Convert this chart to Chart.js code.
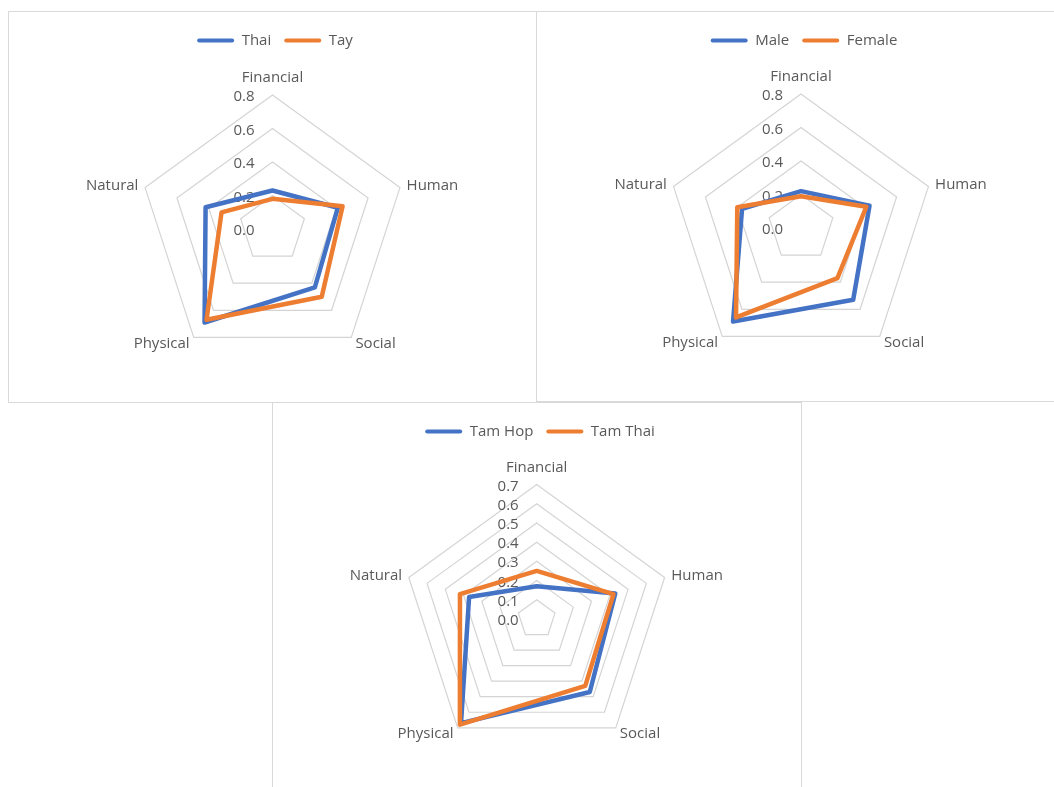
<!DOCTYPE html>
<html>
<head>
<meta charset="utf-8">
<script src="https://cdn.jsdelivr.net/npm/chart.js@4.4.1/dist/chart.umd.min.js"></script>
<style>
  html, body { margin: 0; padding: 0; background: #fff; width: 1054px; height: 787px; overflow: hidden; position: relative; }
  .panel { position: absolute; box-sizing: border-box; border: 1px solid #d9d9d9; background: #fff; }
  canvas { position: absolute; }
</style>
</head>
<body>
<div class="panel" style="left:8px;top:11px;width:529px;height:392px"></div>
<div class="panel" style="left:536px;top:11px;width:531px;height:391px"></div>
<div class="panel" style="left:272px;top:402px;width:530px;height:400px"></div>
<canvas id="byEthnicity" width="528" height="391" style="left:8px;top:11px"></canvas>
<canvas id="byGender" width="530" height="390" style="left:536px;top:11px"></canvas>
<canvas id="byCommune" width="530" height="385" style="left:272px;top:402px"></canvas>

<script>
// Livelihood capitals, clockwise from the top
const categories = ['Financial', 'Human', 'Social', 'Physical', 'Natural'];

// Ethnic groups
const ethnicNames = ['Thai', 'Tay'];
const thaiValues = [0.23, 0.41, 0.43, 0.69, 0.42];
const tayValues  = [0.18, 0.44, 0.50, 0.67, 0.32];

// Gender of household head
const genderNames  = ['Male', 'Female'];
const maleValues   = [0.22, 0.43, 0.53, 0.69, 0.37];
const femaleValues = [0.19, 0.41, 0.37, 0.66, 0.40];

// Communes
const communeNames  = ['Tam Hop', 'Tam Thai'];
const tamHopValues  = [0.17, 0.43, 0.47, 0.67, 0.37];
const tamThaiValues = [0.25, 0.42, 0.43, 0.68, 0.42];

// Radial tick values
const ticksTo08 = [0, 0.2, 0.4, 0.6, 0.8];
const ticksTo07 = [0, 0.1, 0.2, 0.3, 0.4, 0.5, 0.6, 0.7];

const BLUE = '#4472C4';
const ORANGE = '#ED7D31';
const TEXT = '#595959';
const FONT = "'Open Sans', sans-serif";

Chart.defaults.font.family = FONT;
Chart.defaults.font.size = 15;
Chart.defaults.color = TEXT;

// Writes tick labels beside the vertical axis and the capital names outside the web
const radarText = {
  id: 'radarText',
  beforeDatasetsDraw(chart) {
    const scale = chart.scales.r;
    const ctx = chart.ctx;
    ctx.save();
    ctx.font = '15px ' + FONT;
    ctx.fillStyle = TEXT;
    ctx.textBaseline = 'alphabetic';
    ctx.textAlign = 'right';
    scale.ticks.forEach(t => {
      const y = scale.yCenter - scale.getDistanceFromCenterForValue(t.value);
      ctx.fillText(t.label, scale.xCenter - 18, y + 6);
    });
    chart.data.labels.forEach((label, i) => {
      const p = scale.getPointPosition(i, scale.drawingArea + 7);
      const deg = Math.round(scale.getIndexAngle(i) * 180 / Math.PI) % 360;
      if (deg === 0 || deg === 180) ctx.textAlign = 'center';
      else ctx.textAlign = deg < 180 ? 'left' : 'right';
      const y = deg === 0 ? p.y - 6 : p.y + 5;
      ctx.fillText(label, p.x, y);
    });
    ctx.restore();
  }
};

// Legend swatches are plain rounded bars with no outline
function legendItems(chart) {
  const items = Chart.defaults.plugins.legend.labels.generateLabels(chart);
  items.forEach(it => { it.lineWidth = 0; });
  return items;
}

function radarChart(id, names, seriesA, seriesB, tickValues, plot) {
  const max = tickValues[tickValues.length - 1];
  return new Chart(document.getElementById(id), {
    type: 'radar',
    data: {
      labels: categories,
      datasets: [
        { label: names[0], data: seriesA, borderColor: BLUE, backgroundColor: BLUE, order: 1 },
        { label: names[1], data: seriesB, borderColor: ORANGE, backgroundColor: ORANGE, order: 0 }
      ]
    },
    options: {
      responsive: false,
      animation: false,
      devicePixelRatio: 1,
      layout: { padding: { top: 9, left: 6, right: 0, bottom: 0 } },
      elements: {
        line: { borderWidth: 4.5, fill: false, tension: 0, borderJoinStyle: 'round', borderCapStyle: 'round' },
        point: { radius: 0, hoverRadius: 0 }
      },
      datasets: { radar: { clip: false } },
      plugins: {
        legend: {
          position: 'top',
          align: 'center',
          labels: {
            boxWidth: 37,
            boxHeight: 4,
            useBorderRadius: true,
            borderRadius: 2,
            padding: 13,
            color: TEXT,
            font: { size: 15, family: FONT },
            generateLabels: legendItems,
            sort: (a, b) => a.datasetIndex - b.datasetIndex
          }
        },
        tooltip: { enabled: false }
      },
      scales: {
        r: {
          min: 0,
          max: max,
          afterBuildTicks: s => { s.ticks = tickValues.map(v => ({ value: v })); },
          afterFit: s => { s.xCenter = plot.cx; s.yCenter = plot.cy; s.drawingArea = plot.r; },
          ticks: { display: false, callback: v => v.toFixed(1) },
          pointLabels: { display: false },
          angleLines: { display: false },
          grid: { color: '#d4d4d4', lineWidth: 1.2, circular: false }
        }
      }
    },
    plugins: [radarText]
  });
}

radarChart('byEthnicity', ethnicNames, thaiValues, tayValues, ticksTo08, { cx: 264.5, cy: 218, r: 134 });
radarChart('byGender', genderNames, maleValues, femaleValues, ticksTo08, { cx: 265, cy: 217, r: 134 });
radarChart('byCommune', communeNames, tamHopValues, tamThaiValues, ticksTo07, { cx: 264.7, cy: 217, r: 134.5 });
</script>
</body>
</html>
